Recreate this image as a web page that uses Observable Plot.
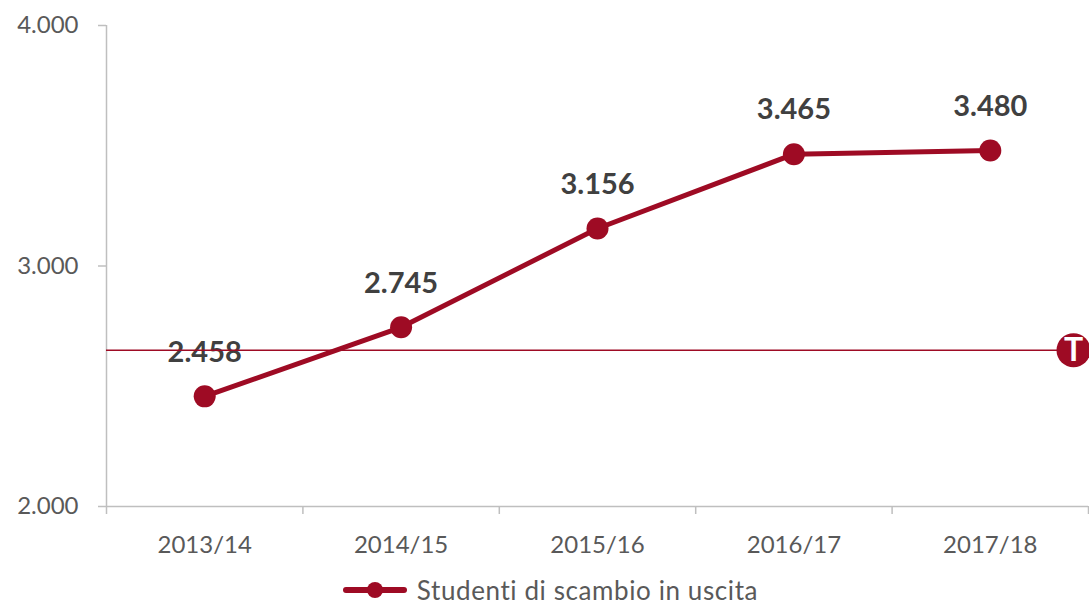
<!DOCTYPE html>
<html><head><meta charset="utf-8">
<script src="https://cdn.jsdelivr.net/npm/d3@7"></script>
<script src="https://cdn.jsdelivr.net/npm/@observablehq/plot@0.6"></script>
<style>
body{margin:0;background:#fff;font-family:Lato,"Open Sans",sans-serif;}
#legend{display:flex;align-items:center;justify-content:center;height:30px;font-size:26px;letter-spacing:0.6px;color:#595959;padding-left:12px;}
#legend svg{margin-right:10px;}
</style>
</head><body>
<div id="chart"></div>
<div id="legend"><svg width="64" height="24"><line x1="3" y1="12" x2="61" y2="12" stroke="#9e0b24" stroke-width="6" stroke-linecap="round"/><circle cx="32" cy="12" r="8" fill="#9e0b24"/></svg><span>Studenti di scambio in uscita</span></div>
<script>
const years = ["2013/14","2014/15","2015/16","2016/17","2017/18"];
const values = [2458, 2745, 3156, 3465, 3480];
const target = 2650;
const yTicks = [2000, 3000, 4000];
const seriesName = "Studenti di scambio in uscita";

const color = "#9e0b24";
const it = d3.formatLocale({decimal: ",", thousands: ".", grouping: [3], currency: ["€", ""]});
const fmt = it.format(",d");
const data = years.map((y, i) => ({i, year: y, value: values[i]}));
const bounds = d3.range(years.length + 1).map(k => k - 0.5);

const plot = Plot.plot({
  width: 1089,
  height: 575,
  marginLeft: 106,
  marginRight: 1,
  marginTop: 25,
  marginBottom: 69,
  style: {fontFamily: "Lato, 'Open Sans', sans-serif", background: "#fff"},
  x: {type: "linear", domain: [-0.5, years.length - 0.5], label: null},
  y: {domain: [2000, 4000], label: null},
  marks: [
    Plot.ruleX([-0.5], {stroke: "#bfbfbf", strokeWidth: 1.5}),
    Plot.ruleY([2000], {stroke: "#bfbfbf", strokeWidth: 1.5}),
    Plot.axisX(bounds, {tickSize: 8, stroke: "#bfbfbf", strokeWidth: 1.5, tickFormat: () => "", tickPadding: 0, label: null}),
    Plot.axisX(d3.range(years.length), {tickSize: 0, tickPadding: 29, tickFormat: d => years[d], fontSize: 24, fill: "#595959", label: null}),
    Plot.axisY(yTicks, {tickSize: 8, tickPadding: 20, stroke: "#bfbfbf", strokeWidth: 1.5, tickFormat: fmt, fontSize: 24, fill: "#595959", label: null}),
    Plot.line(data, {x: "i", y: "value", stroke: color, strokeWidth: 5}),
    Plot.dot(data, {x: "i", y: "value", r: 11, fill: color}),
    Plot.text(data, {x: "i", y: "value", text: d => fmt(d.value), dy: -44, fontSize: 29, fontWeight: "bold", fill: "#404040"}),
    Plot.ruleY([target], {stroke: color, strokeWidth: 1.5}),
    Plot.dot([target], {y: d => d, frameAnchor: "right", dx: -15, r: 17, fill: color}),
    Plot.text([target], {y: d => d, frameAnchor: "right", dx: -15, dy: 1, text: () => "T", fill: "#fff", fontSize: 32, fontWeight: "bold", textAnchor: "middle"})
  ]
});
document.getElementById("chart").appendChild(plot);
</script>
</body></html>
